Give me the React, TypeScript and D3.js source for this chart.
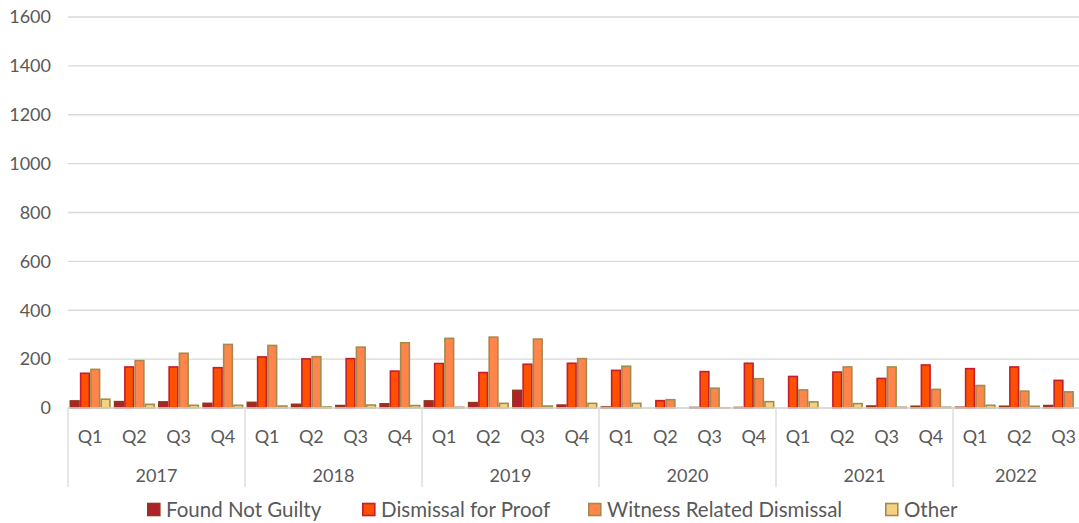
import * as d3 from 'd3';

// chart data
const years = ['2017', '2018', '2019', '2020', '2021', '2022'];
const quarters = ['Q1', 'Q2', 'Q3', 'Q4', 'Q1', 'Q2', 'Q3', 'Q4', 'Q1', 'Q2', 'Q3', 'Q4', 'Q1', 'Q2', 'Q3', 'Q4', 'Q1', 'Q2', 'Q3', 'Q4', 'Q1', 'Q2', 'Q3'];
const quarterYear = [0, 0, 0, 0, 1, 1, 1, 1, 2, 2, 2, 2, 3, 3, 3, 3, 4, 4, 4, 4, 5, 5, 5];

const foundNotGuilty = [29, 26, 25, 19, 23, 15, 10, 17, 29, 22, 72, 12, 4, 0, 2, 2, 0, 0, 8, 7, 3, 7, 10];
const dismissalForProof = [142, 168, 168, 165, 209, 201, 202, 151, 182, 145, 179, 183, 154, 30, 149, 183, 129, 147, 121, 176, 161, 168, 113];
const witnessRelated = [158, 194, 224, 260, 256, 210, 249, 267, 285, 290, 282, 202, 171, 34, 81, 120, 74, 168, 168, 76, 92, 69, 66];
const other = [36, 15, 11, 11, 8, 4, 12, 10, 3, 19, 8, 19, 19, 0, 1, 26, 25, 18, 3, 3, 11, 7, 0];

const yTicks = [0, 200, 400, 600, 800, 1000, 1200, 1400, 1600];

const seriesNames = ['Found Not Guilty', 'Dismissal for Proof', 'Witness Related Dismissal', 'Other'];
const seriesData = [foundNotGuilty, dismissalForProof, witnessRelated, other];
const fills = ['#B0222A', '#FF5000', '#FF854A', '#F5D282'];
const strokes = ['#8E3A14', '#C41E2E', '#A38B4E', '#A38B4E'];

const W = 1079;
const H = 523;
const FONT = 'Lato, "Open Sans", sans-serif';
const TEXT = '#595959';
const GRID = '#D9D9D9';

export default function App() {
  const left = 68;
  const catW = 44.25;
  const right = left + catW * quarters.length;
  const top = 17;
  const bottom = 408;

  const x = d3.scaleBand<number>()
    .domain(d3.range(quarters.length))
    .range([left, right])
    .paddingInner(0.07)
    .paddingOuter(0.035);

  const xs = d3.scaleBand<number>()
    .domain(d3.range(4))
    .range([0, x.bandwidth()])
    .padding(0);

  const y = d3.scaleLinear().domain([0, 1600]).range([bottom, top]);

  const axisBottom = 487;
  const yearBounds = years.map((_, yi) => {
    const idx = quarterYear.map((v, i) => (v === yi ? i : -1)).filter(i => i >= 0);
    return [left + idx[0] * catW, left + (idx[idx.length - 1] + 1) * catW];
  });

  const legendX = [147, 362, 588, 885];

  return (
    <div style={{ position: 'fixed', left: 0, top: 0 }}>
      <svg width={W} height={H} style={{ display: 'block', background: '#fff' }} fontFamily={FONT}>
        {/* gridlines + y labels */}
        {yTicks.map(t => (
          <g key={t}>
            <line x1={left} x2={W} y1={y(t)} y2={y(t)} stroke={GRID} strokeWidth={1.3} />
            <text x={51} y={y(t)} dy="0.35em" textAnchor="end" fontSize={18} fill={TEXT}>{t}</text>
          </g>
        ))}

        {/* bars */}
        {quarters.map((_, i) => (
          <g key={i} transform={`translate(${x(i)},0)`}>
            {seriesData.map((s, si) => {
              const v = s[i];
              if (v <= 0) return null;
              return (
                <rect key={si}
                  x={(xs(si) ?? 0) + 0.8}
                  y={y(v)}
                  width={xs.bandwidth() - 1.6}
                  height={y(0) - y(v)}
                  fill={fills[si]}
                  stroke={strokes[si]}
                  strokeWidth={1.6} />
              );
            })}
          </g>
        ))}

        {/* category axis */}
        <line x1={left} x2={W} y1={bottom} y2={bottom} stroke={GRID} strokeWidth={1.3} />
        {yearBounds.map(([a], i) => (
          <line key={'s' + i} x1={a} x2={a} y1={bottom} y2={axisBottom} stroke={GRID} strokeWidth={1.3} />
        ))}
        <line x1={right} x2={right} y1={bottom} y2={axisBottom} stroke={GRID} strokeWidth={1.3} />
        {quarters.map((q, i) => (
          <text key={'q' + i} x={(x(i) ?? 0) + x.bandwidth() / 2} y={437} dy="0.35em" textAnchor="middle" fontSize={18} fill={TEXT}>{q}</text>
        ))}
        {years.map((yr, i) => (
          <text key={yr} x={(yearBounds[i][0] + Math.min(yearBounds[i][1], W)) / 2} y={476} dy="0.35em" textAnchor="middle" fontSize={18} fill={TEXT}>{yr}</text>
        ))}

        {/* legend */}
        {seriesNames.map((n, i) => (
          <g key={n} transform={`translate(${legendX[i]},510)`}>
            <rect x={0.8} y={-6.5} width={12} height={12} fill={fills[i]} stroke={strokes[i]} strokeWidth={1.6} />
            <text x={19} y={0} dy="0.35em" fontSize={20.5} fill={TEXT}>{n}</text>
          </g>
        ))}
      </svg>
    </div>
  );
}
